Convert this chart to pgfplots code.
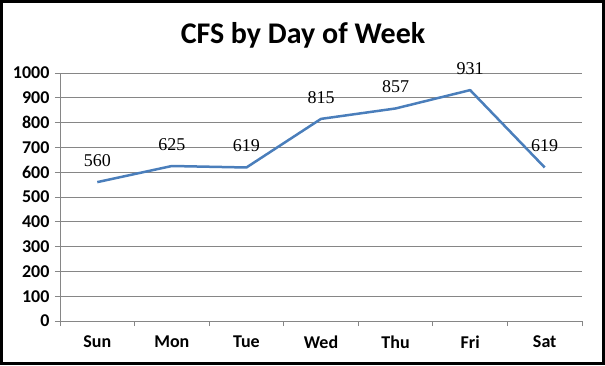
\documentclass[border=0pt]{standalone}
\usepackage{pgfplots}
\pgfplotsset{compat=1.18}
\usepackage{fontspec}
\setmainfont{Carlito}
\newfontfamily\labfont{Liberation Serif}
\definecolor{exblue}{HTML}{4A7EBB}
\definecolor{gridgray}{HTML}{868686}
\begin{document}
\begin{tikzpicture}[x=1pt,y=1pt]
\path[use as bounding box] (0,0) rectangle (605,365);
\draw[line width=3pt] (1.5,1.5) rectangle (603.5,363.5);
\node[font=\fontsize{30}{34}\selectfont\bfseries] at (303,330) {CFS by Day of Week};
\begin{axis}[
  at={(60pt,44pt)}, anchor=south west,
  scale only axis, width=522pt, height=248pt,
  xmin=-0.5, xmax=6.5, ymin=0, ymax=1000,
  axis x line=bottom, axis y line=left,
  axis line style={-, gridgray, line width=0.8pt},
  xtick={0,...,6},
  xticklabels={Sun,Mon,Tue,Wed,Thu,Fri,Sat},
  major x tick style={draw=none},
  minor xtick={-0.5,0.5,...,6.5},
  minor x tick style={gridgray, line width=0.8pt},
  minor tick length=5pt,
  ytick={0,100,...,1000},
  y tick style={gridgray, line width=0.8pt},
  major tick length=5pt,
  tick align=outside,
  ymajorgrids,
  grid style={gridgray, line width=0.8pt},
  tick label style={font=\fontsize{18}{20}\selectfont\bfseries},
  xticklabel style={yshift=-6pt},
  yticklabel style={xshift=-2pt},
  /pgf/number format/assume math mode=true,
  /pgf/number format/1000 sep={},
  clip=false,
  nodes near coords,
  every node near coord/.append style={font=\labfont\fontsize{18}{20}\selectfont, black, yshift=11pt},
]
\addplot[exblue, line width=2.5pt, mark=none, line join=round] coordinates {
(0,560) (1,625) (2,619) (3,815) (4,857) (5,931) (6,619)
};
\end{axis}
\end{tikzpicture}
\end{document}
